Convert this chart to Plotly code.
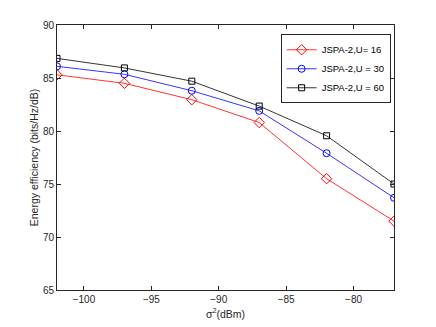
import plotly.graph_objects as go

noise_dbm = [-102, -97, -92, -87, -82, -77]
ee_u16 = [85.3, 84.5, 82.95, 80.8, 75.5, 71.5]
ee_u30 = [86.1, 85.35, 83.8, 81.9, 77.9, 73.7]
ee_u60 = [86.85, 85.95, 84.7, 82.35, 79.55, 75.0]

series = [
    ("JSPA-2,U= 16", ee_u16, "#ff0000", "diamond-open", 8),
    ("JSPA-2,U = 30", ee_u30, "#0000ff", "circle-open", 7),
    ("JSPA-2,U = 60", ee_u60, "#000000", "square-open", 6),
]

fig = go.Figure()
for name, vals, color, symbol, size in series:
    fig.add_trace(go.Scatter(
        x=noise_dbm, y=vals, name=name, mode="lines+markers",
        line=dict(color=color, width=0.8),
        marker=dict(symbol=symbol, size=size, color=color, line=dict(width=1, color=color)),
    ))

axis_common = dict(
    showline=True, linecolor="#262626", linewidth=1, mirror="allticks",
    ticks="inside", ticklen=4, tickcolor="#262626", showgrid=False, zeroline=False,
    tickfont=dict(size=10, color="#262626"), automargin=False,
)

# the page body adds an 8px offset, so margins are shifted to keep the plot box in place
fig.update_layout(
    width=436, height=327,
    margin=dict(l=49, r=50, t=17, b=45),
    paper_bgcolor="white", plot_bgcolor="white",
    font=dict(family="Liberation Sans, Arial, sans-serif", color="#262626", size=10),
    xaxis=dict(range=[-102, -77], tickvals=[-100, -95, -90, -85, -80],
               title=dict(text="σ<sup>2</sup>(dBm)", font=dict(size=10.5), standoff=6), **axis_common),
    yaxis=dict(range=[65, 90], tickvals=[65, 70, 75, 80, 85, 90],
               title=dict(text="Energy efficiency (bits/Hz/dB)", font=dict(size=10.5), standoff=2), **axis_common),
    legend=dict(x=0.99, y=0.965, xanchor="right", yanchor="top",
                bgcolor="white", bordercolor="#262626", borderwidth=1,
                font=dict(size=9.5, color="#000000"), tracegroupgap=0, itemwidth=30),
    showlegend=True,
)

fig.write_html("out.html")
